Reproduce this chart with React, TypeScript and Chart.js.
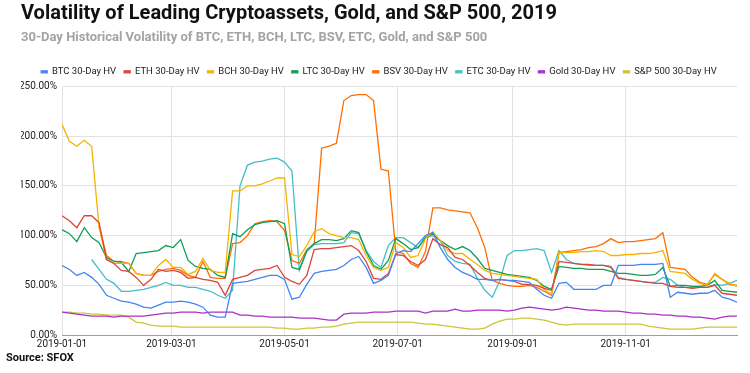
import React, { useEffect, useRef } from "react";
import { Chart, registerables } from "chart.js";

Chart.register(...registerables);

const STEP_DAYS = 4;
const tickDays = [0, 59, 120, 181, 243, 304];
const tickLabels = ["2019-01-01", "2019-03-01", "2019-05-01", "2019-07-01", "2019-09-01", "2019-11-01"];
const yTicks = [0, 50, 100, 150, 200, 250];

const seriesNames = [
  "BTC 30-Day HV", "ETH 30-Day HV", "BCH 30-Day HV", "LTC 30-Day HV",
  "BSV 30-Day HV", "ETC 30-Day HV", "Gold 30-Day HV", "S&P 500 30-Day HV",
];
const seriesColors = ["#4285f4", "#db4437", "#f4b400", "#0f9d58", "#ff6d01", "#46bdc6", "#ab30c4", "#c9c63a"];

const btc = [
  70, 66, 60, 63, 58, 51, 40, 37, 34, 33,
  31, 28, 27, 30, 33, 33, 34, 33, 31, 28,
  20, 18, 18, 52, 53, 54, 56, 58, 60, 60,
  56, 36, 38, 51, 62, 64, 65, 66, 70, 76,
  79, 68, 52, 55, 60, 82, 85, 84, 92, 100,
  103, 88, 76, 68, 63, 60, 56, 56, 55, 56,
  55, 55, 54, 53, 46, 40, 37, 52, 53, 46,
  46, 46, 46, 50, 50, 70, 70, 70, 71, 71,
  71, 72, 38, 43, 42, 41, 42, 42, 45, 38,
  36, 33,
];
const eth = [
  120, 115, 108, 120, 120, 113, 76, 72, 65, 64,
  58, 50, 56, 66, 64, 65, 63, 57, 58, 56,
  55, 53, 40, 56, 58, 60, 65, 66, 67, 70,
  58, 54, 51, 60, 86, 87, 87, 88, 89, 90,
  85, 74, 57, 56, 62, 81, 80, 74, 70, 76,
  97, 91, 88, 78, 76, 70, 63, 57, 55, 56,
  55, 54, 51, 51, 50, 47, 45, 74, 73, 72,
  71, 71, 70, 70, 68, 57, 56, 55, 54, 53,
  52, 52, 49, 48, 48, 47, 48, 48, 50, 42,
  41, 40,
];
const bch = [
  212, 195, 190, 196, 190, 108, 76, 72, 72, 72,
  62, 60, 60, 70, 76, 68, 68, 61, 64, 77,
  65, 63, 63, 145, 145, 150, 150, 152, 155, 158,
  158, 81, 79, 90, 104, 107, 102, 100, 98, 98,
  96, 80, 68, 65, 68, 93, 88, 78, 80, 97,
  104, 95, 85, 82, 82, 76, 71, 65, 62, 61,
  60, 59, 58, 57, 56, 46, 41, 83, 83, 83,
  84, 84, 85, 84, 80, 80, 81, 81, 82, 82,
  83, 85, 64, 63, 62, 56, 52, 50, 62, 56,
  52, 49,
];
const ltc = [
  106, 102, 94, 108, 98, 93, 78, 74, 73, 64,
  82, 83, 84, 85, 90, 88, 96, 75, 69, 67,
  66, 60, 58, 102, 99, 106, 111, 113, 114, 115,
  112, 68, 66, 85, 92, 96, 96, 95, 97, 105,
  103, 84, 70, 66, 75, 97, 92, 86, 88, 98,
  102, 95, 90, 86, 89, 85, 77, 67, 65, 63,
  61, 60, 59, 58, 55, 49, 46, 69, 68, 67,
  67, 66, 66, 66, 64, 62, 62, 61, 60, 60,
  61, 68, 49, 50, 50, 49, 49, 50, 55, 45,
  44, 43,
];
const bsv = [
  null, null, null, null, null, 110, 80, 74, 74, 72,
  62, 60, 60, 64, 66, 67, 65, 60, 58, 74,
  58, 57, 57, 92, 93, 100, 112, 114, 115, 114,
  105, 75, 72, 86, 92, 188, 190, 193, 236, 241,
  242, 242, 236, 167, 165, 84, 82, 72, 68, 84,
  128, 128, 126, 125, 124, 123, 108, 88, 55, 52,
  50, 49, 49, 50, 48, 44, 40, 83, 84, 85,
  86, 88, 89, 92, 97, 93, 94, 94, 95, 96,
  97, 103, 68, 67, 66, 58, 53, 51, 61, 56,
  51, 50,
];
const etc = [
  null, null, null, null, 76, 66, 56, 52, 44, 44,
  45, 46, 48, 50, 53, 50, 50, 48, 48, 46,
  44, 40, 37, 45, 150, 171, 174, 175, 177, 178,
  174, 165, 65, 84, 91, 92, 92, 92, 93, 103,
  102, 85, 74, 68, 90, 98, 98, 93, 88, 98,
  100, 95, 80, 74, 72, 71, 57, 45, 38, 54,
  80, 85, 85, 86, 87, 85, 63, 85, 76, 72,
  71, 70, 70, 70, 69, 58, 56, 55, 54, 53,
  53, 58, 56, 50, 48, 48, 48, 48, 51, 50,
  52, 55,
];
const gold = [
  23, 22, 21, 20, 19, 19, 19, 18, 19, 19,
  19, 19, 20, 21, 22, 22, 23, 23, 23, 22,
  23, 23, 23, 23, 20, 20, 19, 19, 18, 18,
  18, 18, 17, 17, 17, 16, 15, 15, 21, 22,
  22, 22, 23, 23, 23, 24, 24, 24, 24, 22,
  24, 24, 24, 26, 24, 24, 25, 25, 25, 25,
  24, 25, 27, 28, 27, 26, 25, 26, 28, 27,
  26, 25, 25, 24, 24, 24, 23, 22, 22, 21,
  21, 20, 20, 19, 19, 18, 18, 17, 16, 18,
  19, 19,
];
const sp500 = [
  23, 23, 22, 22, 21, 21, 20, 20, 20, 18,
  13, 12, 10, 9, 9, 9, 8, 8, 8, 8,
  8, 8, 8, 8, 8, 8, 8, 8, 8, 7,
  7, 6, 6, 7, 7, 8, 8, 9, 11, 12,
  13, 13, 13, 13, 13, 13, 13, 13, 12, 11,
  11, 10, 9, 8, 7, 6, 6, 7, 11, 14,
  16, 16, 17, 17, 16, 15, 13, 11, 10, 11,
  11, 11, 11, 11, 11, 11, 11, 11, 11, 9,
  8, 7, 6, 6, 6, 6, 7, 8, 8, 8,
  8, 8,
];

const allSeries = [btc, eth, bch, ltc, bsv, etc, gold, sp500];
const dayIndex = btc.map((_, i) => i * STEP_DAYS);

const FONT = "Roboto, 'Noto Sans', Arial, sans-serif";

const sourcePlugin = {
  id: "sourceNote",
  afterDraw(chart: any) {
    const ctx = chart.ctx;
    ctx.save();
    ctx.font = `bold 11px ${FONT}`;
    ctx.fillStyle = "#111";
    ctx.textBaseline = "middle";
    ctx.textAlign = "left";
    ctx.fillText("Source: SFOX", 6, 358);
    ctx.restore();
  },
};

export default function App() {
  const ref = useRef<HTMLCanvasElement | null>(null);
  useEffect(() => {
    if (!ref.current) return;
    const datasets = allSeries.map((s, k) => ({
      label: seriesNames[k],
      data: s.map((v, i) => ({ x: dayIndex[i], y: v })),
      borderColor: seriesColors[k],
      backgroundColor: seriesColors[k],
      borderWidth: 1.3,
      pointRadius: 0,
      tension: 0,
      spanGaps: false,
    }));
    const chart = new Chart(ref.current, {
      type: "line",
      data: { datasets },
      plugins: [sourcePlugin],
      options: {
        animation: false,
        responsive: false,
        devicePixelRatio: 1,
        layout: { padding: { left: 21, right: 13, top: 0, bottom: 20 } },
        plugins: {
          title: {
            display: true,
            text: "Volatility of Leading Cryptoassets, Gold, and S&P 500, 2019",
            align: "start",
            color: "#111",
            font: { family: FONT, size: 20, weight: "bold" },
            padding: { top: 2, bottom: 2 },
          },
          subtitle: {
            display: true,
            text: "30-Day Historical Volatility of BTC, ETH, BCH, LTC, BSV, ETC, Gold, and S&P 500",
            align: "start",
            color: "#a3a3a3",
            font: { family: FONT, size: 13, weight: "bold" },
            padding: { top: 1.5, bottom: 14 },
          },
          legend: {
            display: true,
            position: "top",
            align: "center",
            labels: {
              boxWidth: 6,
              boxHeight: 2,
              padding: 8,
              color: "#222",
              font: { family: FONT, size: 9.5 },
            },
          },
          tooltip: { enabled: false },
        },
        scales: {
          x: {
            type: "linear",
            min: 0,
            max: 364,
            afterBuildTicks: (scale: any) => {
              scale.ticks = tickDays.map((v) => ({ value: v }));
            },
            ticks: {
              autoSkip: false,
              maxRotation: 0,
              padding: 3,
              color: "#222",
              font: { family: FONT, size: 10 },
              callback: (v: any) => {
                const idx = tickDays.indexOf(Number(v));
                return idx >= 0 ? tickLabels[idx] : "";
              },
            },
            grid: { color: "#e2e2e2", drawTicks: false, lineWidth: 1 },
            border: { color: "#9e9e9e", width: 1 },
          },
          y: {
            min: 0,
            max: 250,
            afterBuildTicks: (scale: any) => {
              scale.ticks = yTicks.map((v) => ({ value: v }));
            },
            afterFit: (scale: any) => {
              scale.width = 41;
            },
            ticks: {
              padding: 5,
              color: "#222",
              font: { family: FONT, size: 10 },
              callback: (v: any) => Number(v).toFixed(2) + "%",
            },
            grid: { color: "#e2e2e2", drawTicks: false, lineWidth: 1 },
            border: { display: false },
          },
        },
      },
    } as any);
    return () => chart.destroy();
  }, []);
  return (
    <div style={{ position: "fixed", left: 0, top: 0, width: 750, height: 373, background: "#fff" }}>
      <canvas ref={ref} width={750} height={373} />
    </div>
  );
}
